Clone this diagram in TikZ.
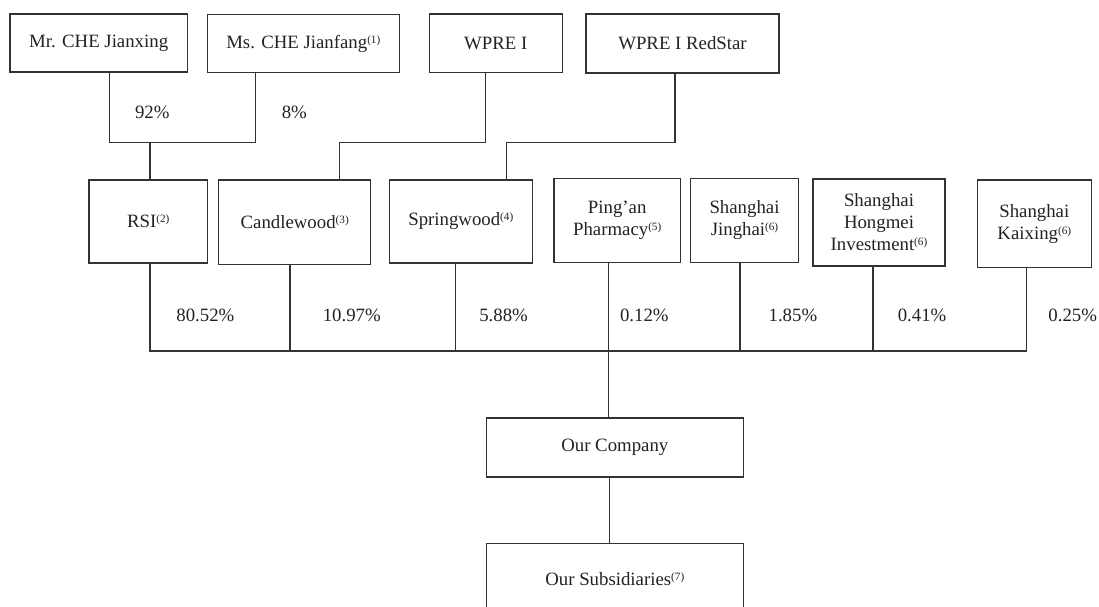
\documentclass[tikz,border=0pt]{standalone}
\usepackage{fontspec}
\setmainfont{Liberation Serif}
\definecolor{lineclr}{HTML}{333333}
\definecolor{txtclr}{HTML}{222222}
\newcommand{\fs}{\fontsize{9.4}{11}\selectfont}
\newcommand{\fn}[1]{\raisebox{2.6pt}{\fontsize{5.6}{6}\selectfont(#1)}}
\begin{document}
\begin{tikzpicture}[x=0.5pt,y=-0.5pt,
  box/.style={draw=lineclr, line width=0.65pt, inner sep=0pt, align=center, font=\fs, text=txtclr},
  pct/.style={inner sep=0pt, font=\fs, text=txtclr},
  conn/.style={draw=lineclr, line width=0.65pt}]
\useasboundingbox (0,0) rectangle (1099,606);
\clip (0,0) rectangle (1099,606);
% top row
\node[box, minimum width=88.7pt, minimum height=29pt] (mr) at (98.7,43) {Mr. CHE Jianxing};
\node[box, minimum width=96pt, minimum height=29pt] (ms) at (303.3,43.7) {Ms. CHE Jianfang\fn{1}};
\node[box, minimum width=66.5pt, minimum height=29.3pt] (wpre) at (495.8,43.3) {WPRE I};
\node[box, minimum width=96.5pt, minimum height=29.5pt] (red) at (682.5,43.5) {WPRE I RedStar};
% middle row
\node[box, minimum width=59.3pt, minimum height=41.5pt] (rsi) at (148.3,221.5) {RSI\fn{2}};
\node[box, minimum width=76pt, minimum height=42.2pt] (cand) at (294.7,222.2) {Candlewood\fn{3}};
\node[box, minimum width=71.5pt, minimum height=41.5pt] (spring) at (460.8,221.5) {Springwood\fn{4}};
\node[box, minimum width=63.2pt, minimum height=42pt] (ping) at (617.2,220.3) {Ping’an\\Pharmacy\fn{5}};
\node[box, minimum width=53.8pt, minimum height=42pt] (jing) at (744.5,220.3) {Shanghai\\Jinghai\fn{6}};
\node[box, minimum width=66pt, minimum height=43.5pt] (hong) at (879,222.5) {Shanghai\\Hongmei\\Investment\fn{6}};
\node[box, minimum width=57pt, minimum height=43.8pt] (kai) at (1034.3,223.8) {Shanghai\\Kaixing\fn{6}};
% bottom
\node[box, minimum width=128.5pt, minimum height=29.5pt] (comp) at (614.8,447.5) {Our Company};
\node[box, minimum width=128.5pt, minimum height=36pt] (sub) at (614.8,579.3) {Our Subsidiaries\fn{7}};
% percentages
\node[pct] (p92) at (152.3,112.3) {92\%};
\node[pct] (p8) at (294.3,112.3) {8\%};
\node[pct] (p1) at (205.4,315.7) {80.52\%};
\node[pct] (p2) at (351.8,315.7) {10.97\%};
\node[pct] (p3) at (503.6,315.7) {5.88\%};
\node[pct] (p4) at (644.3,315.7) {0.12\%};
\node[pct] (p5) at (792.9,315.7) {1.85\%};
\node[pct] (p6) at (922.1,315.7) {0.41\%};
\node[pct] (p7) at (1072.7,315.7) {0.25\%};
% connector corners
\coordinate (a1) at (109.7,142.3);
\coordinate (a2) at (255.7,142.3);
\coordinate (a3) at (150,142.3);
\coordinate (w1) at (485.7,142.3);
\coordinate (w2) at (339.3,142.3);
\coordinate (r1) at (675,142.3);
\coordinate (r2) at (506.3,142.3);
\coordinate (b1) at (150,351);
\coordinate (b2) at (290,351);
\coordinate (b3) at (455.4,351);
\coordinate (b4) at (608.3,351);
\coordinate (b5) at (740,351);
\coordinate (b6) at (873,351);
\coordinate (b7) at (1026.3,351);
\coordinate (c1) at (609.7,500);
% top connectors
\draw[conn] (mr.south -| a1) -- (a1) -- (a2) -- (ms.south -| a2);
\draw[conn] (a3) -- (rsi.north -| a3);
\draw[conn] (wpre.south -| w1) -- (w1) -- (w2) -- (cand.north -| w2);
\draw[conn] (red.south -| r1) -- (r1) -- (r2) -- (spring.north -| r2);
% bus
\draw[conn] (rsi.south -| b1) -- (b1) -- (b7) -- (kai.south -| b7);
\draw[conn] (cand.south -| b2) -- (b2);
\draw[conn] (spring.south -| b3) -- (b3);
\draw[conn] (ping.south -| b4) -- (comp.north -| b4);
\draw[conn] (jing.south -| b5) -- (b5);
\draw[conn] (hong.south -| b6) -- (b6);
\draw[conn] (comp.south -| c1) -- (sub.north -| c1);
\end{tikzpicture}
\end{document}
